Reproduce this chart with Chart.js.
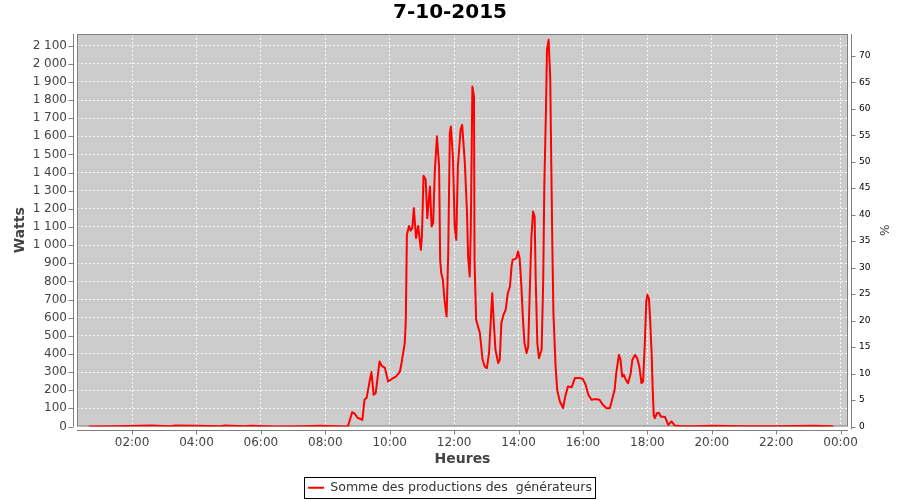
<!DOCTYPE html>
<html lang="fr">
<head>
<meta charset="utf-8">
<title>7-10-2015</title>
<script src="https://cdn.jsdelivr.net/npm/chart.js@4.4.0/dist/chart.umd.min.js"></script>
<style>
  html, body { margin: 0; padding: 0; background: #fff; }
  canvas { display: block; }
</style>
</head>
<body>
<canvas id="prod" width="900" height="500"></canvas>
<script>
// relevés de la journée (heure, watts)
const times = [
  '00:41','01:30','02:36','03:10','03:21','04:00','04:45','04:52','05:30','05:40','06:30','07:20','07:50','08:20','08:42',
  '08:50','08:55','09:00','09:09','09:13','09:17','09:23','09:26','09:30','09:34','09:41','09:45','09:51','09:57',
  '10:04','10:12','10:19','10:22','10:25','10:28','10:30','10:32','10:36','10:39','10:42','10:45','10:49','10:53','10:58',
  '11:00','11:03','11:07','11:10','11:15','11:18','11:21','11:24','11:28','11:32','11:34','11:36','11:39','11:42','11:46','11:49','11:52','11:54','11:58',
  '12:01','12:04','12:07','12:12','12:15','12:20','12:24','12:26','12:29','12:31','12:34','12:37','12:38','12:41','12:48','12:53','12:57',
  '13:01','13:05','13:08','13:11','13:14','13:17','13:22','13:25','13:28','13:32','13:36','13:40','13:44','13:47','13:49','13:53','13:56','13:59',
  '14:02','14:05','14:08','14:11','14:15','14:18','14:21','14:24','14:27','14:30','14:32','14:35','14:38','14:40','14:43','14:46','14:48','14:51','14:53','14:56','14:59',
  '15:01','15:03','15:05','15:09','15:12','15:17','15:23','15:27','15:32','15:39','15:45','15:54',
  '16:00','16:05','16:10','16:16','16:22','16:31','16:37','16:44','16:50','16:55','16:59',
  '17:02','17:07','17:10','17:13','17:16','17:20','17:24','17:29','17:32','17:37','17:41','17:45','17:49','17:52','17:55','17:58',
  '18:00','18:03','18:05','18:08','18:10','18:12','18:14','18:18','18:22','18:25','18:33','18:39','18:45','18:51',
  '19:00','19:30','20:00','21:00','22:00','23:10','23:45'
];
const watts = [
  0,2,5,2,5,4,2,5,2,4,0,2,4,2,0,
  79,70,48,37,147,158,257,300,175,185,358,335,323,248,
  262,276,303,350,405,460,588,1057,1106,1080,1094,1204,1039,1106,974,
  1047,1382,1360,1149,1323,1103,1121,1406,1600,1433,919,846,809,698,606,956,1617,1654,1470,
  1103,1029,1433,1636,1663,1452,1176,937,827,1084,1874,1819,919,588,515,368,331,
  322,405,570,735,570,423,350,368,570,616,643,735,772,882,919,923,928,965,
  928,790,606,460,405,441,754,1047,1185,1158,809,460,377,395,423,809,1323,1728,2077,2132,1930,
  1452,992,625,331,202,138,101,165,220,217,267,267,
  261,230,175,147,151,147,120,101,101,156,202,
  294,395,368,276,285,257,239,294,368,395,377,331,239,248,441,690,
  726,705,600,400,200,60,46,74,74,55,52,9,28,5,
  3,2,4,1,2,4,1
];
const timeTicks = [2, 4, 6, 8, 10, 12, 14, 16, 18, 20, 22, 24];
const timeTickLabels = ['02:00','04:00','06:00','08:00','10:00','12:00','14:00','16:00','18:00','20:00','22:00','00:00'];
const seriesName = 'Somme des productions des  générateurs';

const toHours = t => { const [h, m] = t.split(':').map(Number); return h + m / 60; };
const fmtWatts = v => String(v).replace(/\B(?=(\d{3})+$)/, '\u00a0');

Chart.defaults.font.family = "'DejaVu Sans', sans-serif";
Chart.defaults.color = '#444';

// fond gris, cadre et axes décalés façon JFreeChart
const plotFrame = {
  id: 'plotFrame',
  beforeDraw(chart) {
    const { ctx, chartArea: a } = chart;
    ctx.save();
    ctx.fillStyle = '#cccccc';
    ctx.fillRect(a.left, a.top, a.right - a.left, a.bottom - a.top);
    ctx.restore();
  },
  beforeDatasetsDraw(chart) {
    const { ctx, chartArea: a, scales } = chart;
    ctx.save();
    ctx.strokeStyle = '#808080';
    ctx.lineWidth = 1;
    ctx.strokeRect(a.left + 0.5, a.top + 0.5, a.right - a.left - 1, a.bottom - a.top - 1);

    const L = Math.round(a.left) - 3.5, B = Math.round(a.bottom) + 3.5, R = Math.round(a.right) + 3.5;
    ctx.beginPath();
    ctx.moveTo(L, a.top); ctx.lineTo(L, a.bottom);
    ctx.moveTo(a.left, B); ctx.lineTo(a.right, B);
    ctx.moveTo(R, a.top); ctx.lineTo(R, a.bottom + 3);
    scales.y.ticks.forEach(t => {
      const y = Math.round(scales.y.getPixelForValue(t.value)) + 0.5;
      ctx.moveTo(L - 5, y); ctx.lineTo(L, y);
    });
    scales.y1.ticks.forEach(t => {
      const y = Math.round(scales.y1.getPixelForValue(t.value)) + 0.5;
      ctx.moveTo(R, y); ctx.lineTo(R + 4, y);
    });
    scales.x.ticks.forEach(t => {
      const x = Math.round(scales.x.getPixelForValue(t.value)) + 0.5;
      ctx.moveTo(x, B); ctx.lineTo(x, B + 4);
    });
    ctx.stroke();
    ctx.restore();
  },
  afterDraw(chart) {
    // cadre de la légende
    const { ctx } = chart;
    const hb = chart.legend.legendHitBoxes[0];
    if (!hb) return;
    ctx.save();
    ctx.strokeStyle = '#000';
    ctx.lineWidth = 1;
    ctx.strokeRect(Math.round(hb.left) - 3.5, Math.round(hb.top) - 4.5, Math.round(hb.width) + 7, Math.round(hb.height) + 8);
    ctx.restore();
  }
};

const gridStyle = { color: 'rgba(255,255,255,0.85)', lineWidth: 1, drawTicks: false };

new Chart(document.getElementById('prod'), {
  type: 'line',
  data: {
    datasets: [{
      label: seriesName,
      data: times.map((t, i) => ({ x: toHours(t), y: watts[i] })),
      borderColor: '#ff0000',
      backgroundColor: '#ff0000',
      borderWidth: 2,
      borderJoinStyle: 'round',
      borderCapStyle: 'round',
      pointRadius: 0,
      pointStyle: 'line',
      tension: 0,
      yAxisID: 'y'
    }]
  },
  options: {
    responsive: false,
    animation: false,
    layout: { padding: { top: 0, left: 0, right: 0, bottom: -4 } },
    plugins: {
      title: {
        display: true,
        text: '7-10-2015',
        color: '#000',
        font: { size: 20, weight: 'bold' },
        padding: { top: 1, bottom: 9 }
      },
      legend: {
        position: 'bottom',
        labels: {
          usePointStyle: true,
          pointStyleWidth: 16,
          color: '#333',
          font: { size: 12.5 },
          padding: 6
        }
      },
      tooltip: { enabled: false }
    },
    scales: {
      x: {
        type: 'linear',
        min: 0.29,
        max: 24.23,
        afterBuildTicks: s => { s.ticks = timeTicks.map(v => ({ value: v })); },
        afterFit: s => { s.height = 49; },
        grid: { ...gridStyle },
        border: { display: false, dash: [2, 2] },
        ticks: {
          padding: 9,
          color: '#444',
          font: { size: 12 },
          autoSkip: false,
          maxRotation: 0,
          callback: v => timeTickLabels[timeTicks.indexOf(v)]
        },
        title: { display: true, text: 'Heures', color: '#444', font: { size: 14, weight: 'bold' }, padding: { top: 0, bottom: 8 } }
      },
      y: {
        position: 'left',
        min: 0,
        max: 2164,
        afterFit: s => { s.width = 77; },
        grid: { ...gridStyle },
        border: { display: false, dash: [2, 2] },
        ticks: {
          stepSize: 100,
          includeBounds: false,
          autoSkip: false,
          padding: 10,
          color: '#444',
          font: { size: 12 },
          callback: v => fmtWatts(v)
        },
        title: { display: true, text: 'Watts', color: '#444', font: { size: 14, weight: 'bold' }, padding: { top: 12, bottom: 0 } }
      },
      y1: {
        position: 'right',
        min: 0,
        max: 74.1,
        afterFit: s => { s.width = 52; },
        grid: { display: false, drawTicks: false },
        border: { display: false },
        ticks: {
          stepSize: 5,
          includeBounds: false,
          autoSkip: false,
          padding: 11,
          color: '#000',
          font: { size: 9 }
        },
        title: { display: true, text: '%', color: '#444', font: { size: 12 }, padding: { top: 10, bottom: 0 } }
      }
    }
  },
  plugins: [plotFrame]
});
</script>
</body>
</html>
